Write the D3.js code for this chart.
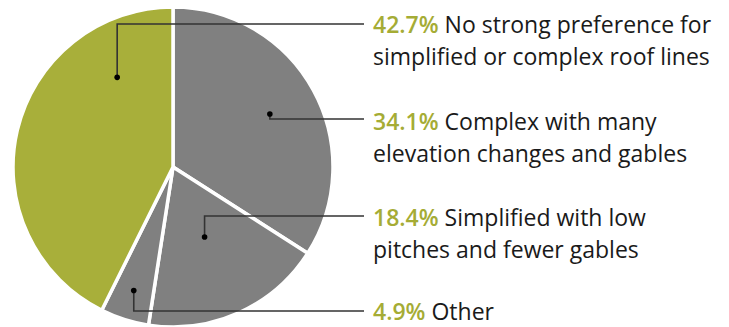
<!DOCTYPE html>
<html><head><meta charset="utf-8">
<script src="https://cdn.jsdelivr.net/npm/d3@7"></script>
<style>body{margin:0;background:#fff}svg{display:block}</style>
</head><body>
<svg id="c" width="729" height="327"></svg>
<script>
const categories = ["Complex with many elevation changes and gables","Simplified with low pitches and fewer gables","Other","No strong preference for simplified or complex roof lines"];
const values = [34.1, 18.4, 4.9, 42.7];
const pctLabels = ["34.1%","18.4%","4.9%","42.7%"];
const labelLines = [
  ["Complex with many","elevation changes and gables"],
  ["Simplified with low","pitches and fewer gables"],
  ["Other"],
  ["No strong preference for","simplified or complex roof lines"]
];
const colors = ["#808080","#808080","#808080","#a8af3a"];

const svg = d3.select("#c");
const cx = 173, cy = 167, R = 160;
const g = svg.append("g").attr("transform",`translate(${cx},${cy})`);
const pie = d3.pie().sort(null).value(d=>d);
const arcs = pie(values);
const arc = d3.arc().innerRadius(0).outerRadius(R);
g.selectAll("path.s").data(arcs).enter().append("path")
  .attr("d",arc).attr("fill",(d,i)=>colors[i])
  .attr("stroke","#fff").attr("stroke-width",3.5).attr("stroke-linejoin","miter");

// annotation layout
const dotR = [0.69, 0.48, 0.81, 0.66];
const dotAngleOverride = [null, null, null, -0.557];
const textY = [130, 226, 320, 33];
const lineY = [119, 216, 311, 24];
const lineEndX = 364, textX = 373, lineH = 32;

arcs.forEach((a,i)=>{
  const ang = dotAngleOverride[i]!==null ? dotAngleOverride[i] : (a.startAngle+a.endAngle)/2;
  const dx = cx + Math.sin(ang)*R*dotR[i];
  const dy = cy - Math.cos(ang)*R*dotR[i];
  svg.append("path")
    .attr("d",`M${dx},${dy}V${lineY[i]}H${lineEndX}`)
    .attr("fill","none").attr("stroke","#333").attr("stroke-width",1.6);
  svg.append("circle").attr("cx",dx).attr("cy",dy).attr("r",2.8).attr("fill","#000");
  const t = svg.append("text").attr("x",textX).attr("y",textY[i])
    .attr("font-family","'Open Sans', sans-serif").attr("font-size",23).attr("fill","#1a1a1a");
  labelLines[i].forEach((ln,j)=>{
    const ts = t.append("tspan").attr("x",textX).attr("y",textY[i]+j*lineH);
    if(j===0){
      ts.append("tspan").attr("fill","#a5ac35").attr("font-weight",600).text(pctLabels[i]);
      ts.append("tspan").text(" "+ln);
    } else ts.text(ln);
  });
});
</script>
</body></html>
